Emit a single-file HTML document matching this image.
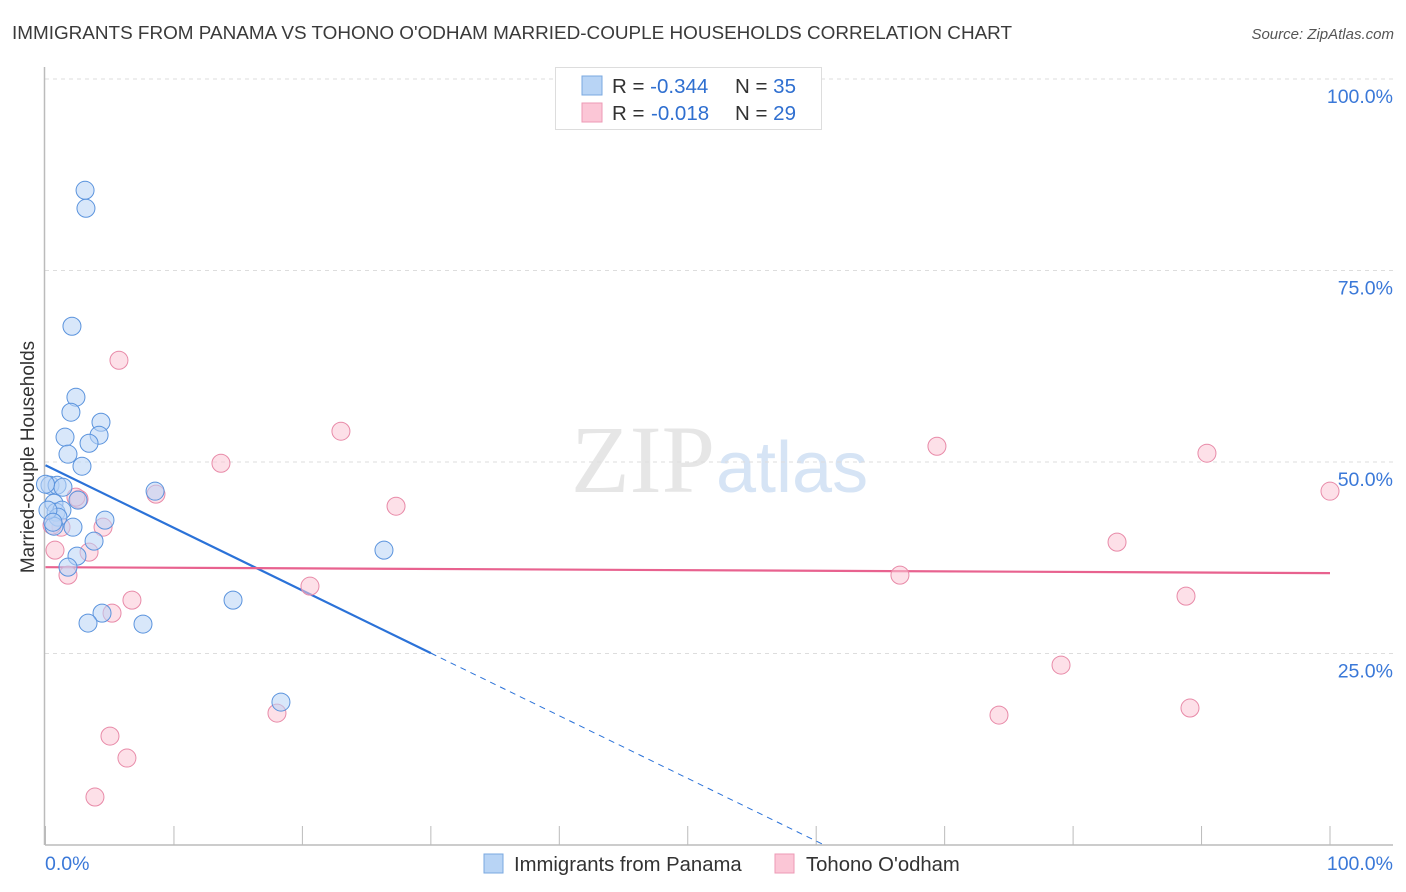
<!DOCTYPE html>
<html><head><meta charset="utf-8">
<style>
body{margin:0;background:#fff;font-family:"Liberation Sans",sans-serif;}
svg{display:block}
</style></head>
<body>
<svg id="chart" width="1406" height="892">
<text x="12" y="39" font-size="18.9" fill="#3a3a3a">IMMIGRANTS FROM PANAMA VS TOHONO O'ODHAM MARRIED-COUPLE HOUSEHOLDS CORRELATION CHART</text>
<text x="1394" y="39" font-size="15" font-style="italic" fill="#555" text-anchor="end">Source: ZipAtlas.com</text>
<text x="715" y="492" font-size="96" font-family="Liberation Serif,serif" fill="#e6e6e6" text-anchor="end">ZIP</text>
<text x="716" y="492" font-size="72" fill="#d6e4f5">atlas</text>
<g id="grid"></g>
<g id="axes"></g>
<g id="trend"></g>
<g id="pts"></g>
<text transform="translate(34,457) rotate(-90)" font-size="19" fill="#333" text-anchor="middle">Married-couple Households</text>
<g>
<rect x="555.5" y="67.5" width="266" height="62" fill="#fff" stroke="#ddd"/>
<rect x="582" y="76" width="20" height="19" fill="#b8d4f5" stroke="#7aa8e0"/>
<rect x="582" y="103" width="20" height="19" fill="#fbc6d6" stroke="#ec9ab5"/>
<text x="612" y="93" font-size="20.5" fill="#333">R = <tspan fill="#2f6fd0">-0.344</tspan><tspan x="735">N = </tspan><tspan fill="#2f6fd0">35</tspan></text>
<text x="612" y="120" font-size="20.5" fill="#333">R = <tspan fill="#2f6fd0" x="651">-0.018</tspan><tspan x="735">N = </tspan><tspan fill="#2f6fd0">29</tspan></text>
</g>
<g>
<rect x="484" y="854" width="19" height="19" fill="#b8d4f5" stroke="#7aa8e0"/>
<text x="514" y="871" font-size="20.3" fill="#333">Immigrants from Panama</text>
<rect x="775" y="854" width="19" height="19" fill="#fbc6d6" stroke="#ec9ab5"/>
<text x="806" y="871" font-size="20.3" fill="#333">Tohono O'odham</text>
</g>
</svg>
<script>
const yTicks=[25,50,75,100];
const yTickLabels=["25.0%","50.0%","75.0%","100.0%"];
const xTicks=[0,10,20,30,40,50,60,70,80,90,100];
const blueX=[3.08,3.15,2.06,2.37,1.98,4.32,4.17,1.52,3.39,1.75,2.84,8.53,0.35,0.90,1.36,0.66,2.53,0.82,1.28,0.97,0.66,2.14,4.63,3.78,2.45,1.75,4.40,3.31,7.59,14.60,26.35,18.33,0.19,0.58,0.0];
const blueY=[85.47,83.12,67.72,58.46,56.50,55.19,53.50,53.24,52.45,51.02,49.45,46.19,46.97,46.97,46.71,44.62,45.02,43.45,43.71,42.80,41.62,41.49,42.41,39.67,37.71,36.27,30.27,28.97,28.84,31.97,38.49,18.66,43.71,42.14,47.10];
const pinkX=[5.72,23.00,13.66,69.40,90.42,100,27.29,8.60,2.61,2.37,1.21,4.48,0.74,3.39,83.42,1.75,66.52,20.59,6.73,5.18,88.79,79.06,18.02,74.23,89.10,5.02,6.34,3.85,0.51];
const pinkY=[63.28,54.02,49.84,52.06,51.15,46.19,44.23,45.80,45.15,45.41,41.49,41.49,38.49,38.23,39.54,35.23,35.23,33.79,31.97,30.27,32.49,23.49,17.22,16.96,17.88,14.22,11.35,6.26,41.75];
const blueTrend=[49.58,-0.8177];
const pinkTrend=[36.27,-0.0078];
const X0=45.5,X1=1330,Y0=845,Y1=79;
const sx=v=>X0+(X1-X0)*v/100, sy=v=>Y0-(Y0-Y1)*v/100;
const NS="http://www.w3.org/2000/svg";
function mk(t,a,p){const e=document.createElementNS(NS,t);for(const k in a)e.setAttribute(k,a[k]);p.appendChild(e);return e;}
const grid=document.getElementById('grid'),axes=document.getElementById('axes'),trend=document.getElementById('trend'),pts=document.getElementById('pts');
yTicks.forEach((t,i)=>{
 const l=mk('line',{x1:45,x2:1393,y1:sy(t),y2:sy(t),stroke:'#ddd','stroke-dasharray':'4,4'},grid);
 
 
 const tx=mk('text',{x:1393,y:sy(t)+24,'font-size':19.5,fill:'#3a78d8','text-anchor':'end'},grid);
 tx.textContent=yTickLabels[i];
 
 
});
const ax=mk('line',{x1:45,x2:1393,y1:845,y2:845,stroke:'#bbb','stroke-width':1.5},axes);


const ay=mk('line',{x1:44.5,x2:44.5,y1:67,y2:845,stroke:'#bbb','stroke-width':1.5},axes);


xTicks.forEach(t=>{
 const l=mk('line',{x1:sx(t),x2:sx(t),y1:826,y2:845,stroke:'#bbb'},axes);
 
 
});
const xl0=mk('text',{x:45,y:870,'font-size':19.5,fill:'#3a78d8'},axes);xl0.textContent='0.0%';


const xl1=mk('text',{x:1393,y:870,'font-size':19.5,fill:'#3a78d8','text-anchor':'end'},axes);xl1.textContent='100.0%';


function series(xs,ys,fill,stroke,name){xs.forEach((x,i)=>{
 const c=mk('circle',{cx:sx(x),cy:sy(ys[i]),r:9,fill:fill,'fill-opacity':0.55,stroke:stroke,'stroke-width':1},pts);
 
 
});}
series(pinkX,pinkY,'#fbc6d6','#e88aa8','pink-point');
series(blueX,blueY,'#b8d4f5','#5a93dd','blue-point');
const bEnd=30, bZero=-blueTrend[0]/blueTrend[1];
const b1=mk('line',{x1:sx(0),y1:sy(blueTrend[0]),x2:sx(bEnd),y2:sy(blueTrend[0]+blueTrend[1]*bEnd),stroke:'#2b72d8','stroke-width':2.2},trend);


const b2=mk('line',{x1:sx(bEnd),y1:sy(blueTrend[0]+blueTrend[1]*bEnd),x2:sx(bZero),y2:sy(0),stroke:'#2b72d8','stroke-width':1,'stroke-dasharray':'6,5'},trend);


const p1=mk('line',{x1:sx(0),y1:sy(pinkTrend[0]),x2:sx(100),y2:sy(pinkTrend[0]+pinkTrend[1]*100),stroke:'#e8628f','stroke-width':2.2},trend);


</script>
</body></html>
